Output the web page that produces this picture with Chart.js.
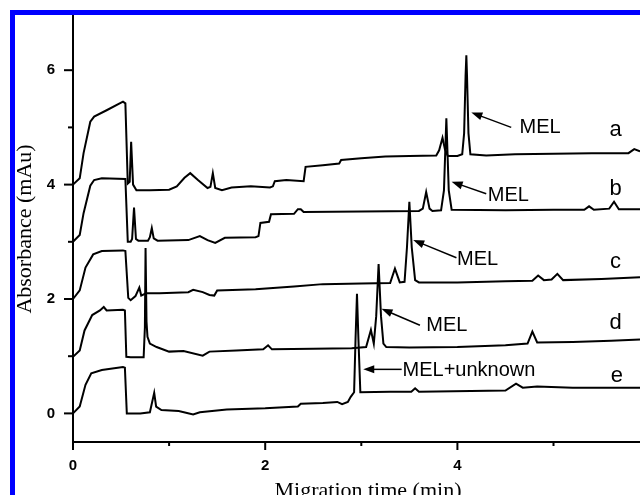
<!DOCTYPE html>
<html>
<head>
<meta charset="utf-8">
<script src="https://cdn.jsdelivr.net/npm/chart.js@4.4.1/dist/chart.umd.min.js"></script>
<style>
  html, body { margin: 0; padding: 0; background: #fff; }
  #wrap { position: relative; width: 640px; height: 495px; }
</style>
</head>
<body>
<div id="wrap"><canvas id="chart"></canvas></div>
<script>
// electropherograms a-e: migration time (min) vs absorbance (mAu)
const timeA = [0, 0.07, 0.11, 0.18, 0.22, 0.35, 0.52, 0.545, 0.57, 0.59, 0.605, 0.625, 0.66, 0.8, 1.0, 1.08, 1.16, 1.22, 1.30, 1.40, 1.43, 1.455, 1.48, 1.55, 1.65, 1.85, 2.05, 2.08, 2.10, 2.22, 2.40, 2.42, 2.60, 2.77, 2.79, 3.0, 3.25, 3.5, 3.78, 3.81, 3.845, 3.87, 3.90, 4.00, 4.05, 4.07, 4.085, 4.093, 4.10, 4.115, 4.135, 4.3, 4.6, 5.0, 5.4, 5.78, 5.84, 5.9];
const absA  = [4.0, 4.11, 4.55, 5.10, 5.19, 5.30, 5.45, 5.42, 4.02, 4.05, 4.75, 4.0, 3.90, 3.90, 3.91, 3.97, 4.12, 4.20, 4.08, 3.94, 3.96, 4.20, 3.94, 3.90, 3.95, 3.97, 3.95, 3.97, 4.06, 4.08, 4.06, 4.31, 4.34, 4.37, 4.43, 4.46, 4.49, 4.50, 4.51, 4.60, 4.82, 4.62, 4.50, 4.50, 4.53, 4.9, 5.9, 6.26, 5.9, 4.9, 4.53, 4.51, 4.53, 4.54, 4.55, 4.55, 4.62, 4.58];

const timeB = [0, 0.07, 0.11, 0.18, 0.22, 0.30, 0.545, 0.57, 0.60, 0.615, 0.635, 0.655, 0.68, 0.78, 0.80, 0.82, 0.84, 0.88, 1.20, 1.32, 1.40, 1.48, 1.58, 1.90, 1.93, 1.95, 2.04, 2.06, 2.30, 2.34, 2.37, 2.40, 3.00, 3.60, 3.64, 3.675, 3.71, 3.74, 3.83, 3.86, 3.885, 3.91, 3.94, 4.5, 5.0, 5.32, 5.37, 5.42, 5.58, 5.63, 5.68, 5.9];
const absB  = [3.0, 3.12, 3.5, 3.98, 4.08, 4.11, 4.10, 3.0, 3.0, 3.05, 3.60, 3.05, 3.02, 3.02, 3.08, 3.24, 3.06, 3.02, 3.03, 3.10, 3.03, 2.98, 3.07, 3.08, 3.10, 3.33, 3.35, 3.48, 3.49, 3.57, 3.57, 3.52, 3.53, 3.54, 3.58, 3.87, 3.58, 3.54, 3.55, 3.9, 5.16, 3.9, 3.56, 3.55, 3.56, 3.56, 3.62, 3.56, 3.58, 3.70, 3.57, 3.57];

const timeC = [0, 0.07, 0.13, 0.21, 0.30, 0.52, 0.545, 0.575, 0.60, 0.65, 0.69, 0.71, 0.76, 0.90, 1.20, 1.25, 1.35, 1.42, 1.47, 1.50, 1.90, 2.30, 2.60, 3.00, 3.30, 3.35, 3.40, 3.45, 3.475, 3.50, 3.525, 3.56, 3.60, 4.00, 4.50, 4.78, 4.84, 4.90, 4.98, 5.04, 5.10, 5.50, 5.90];
const absC  = [2.0, 2.15, 2.55, 2.78, 2.84, 2.85, 2.84, 2.02, 1.98, 2.05, 2.20, 2.06, 2.10, 2.10, 2.12, 2.16, 2.12, 2.07, 2.06, 2.15, 2.17, 2.22, 2.26, 2.27, 2.28, 2.53, 2.29, 2.30, 2.9, 3.70, 2.9, 2.33, 2.29, 2.29, 2.31, 2.32, 2.41, 2.33, 2.34, 2.44, 2.33, 2.35, 2.38];

const timeD = [0, 0.07, 0.12, 0.20, 0.28, 0.32, 0.35, 0.52, 0.54, 0.555, 0.60, 0.735, 0.748, 0.755, 0.765, 0.775, 0.80, 0.87, 1.00, 1.15, 1.35, 1.42, 1.70, 1.98, 2.03, 2.07, 2.50, 2.90, 3.05, 3.10, 3.13, 3.155, 3.18, 3.205, 3.23, 3.26, 3.50, 4.00, 4.50, 4.73, 4.78, 4.83, 5.20, 5.60, 5.90];
const absD  = [0.99, 1.10, 1.45, 1.72, 1.80, 1.86, 1.80, 1.81, 1.80, 0.99, 0.98, 0.98, 1.5, 2.89, 1.6, 1.34, 1.22, 1.16, 1.08, 1.09, 1.01, 1.08, 1.10, 1.12, 1.19, 1.12, 1.13, 1.14, 1.16, 1.46, 1.22, 1.7, 2.61, 1.7, 1.22, 1.16, 1.15, 1.16, 1.19, 1.22, 1.43, 1.24, 1.25, 1.27, 1.29];

const timeE = [0, 0.07, 0.13, 0.19, 0.30, 0.52, 0.54, 0.56, 0.70, 0.80, 0.845, 0.865, 0.92, 1.10, 1.25, 1.32, 1.60, 2.00, 2.34, 2.37, 2.60, 2.75, 2.80, 2.86, 2.89, 2.925, 2.94, 2.955, 2.97, 2.99, 3.30, 3.52, 3.56, 3.60, 4.50, 4.61, 4.68, 4.83, 5.20, 5.90];
const absE  = [0.0, 0.12, 0.5, 0.70, 0.76, 0.81, 0.80, 0.0, 0.0, 0.02, 0.36, 0.12, 0.06, 0.04, -0.02, 0.02, 0.07, 0.09, 0.12, 0.17, 0.18, 0.20, 0.16, 0.20, 0.29, 0.37, 1.3, 2.09, 1.3, 0.37, 0.38, 0.38, 0.44, 0.38, 0.40, 0.52, 0.45, 0.47, 0.45, 0.45];

const X_TICKS = [0, 1, 2, 3, 4, 5];
const Y_TICKS = [0, 1, 2, 3, 4, 5, 6];

// labels and arrows, in data units
const TRACE_LABELS = [
  { text: 'a', x: 5.645, y: 4.95 },
  { text: 'b', x: 5.645, y: 3.92 },
  { text: 'c', x: 5.645, y: 2.64 },
  { text: 'd', x: 5.645, y: 1.58 },
  { text: 'e', x: 5.66,  y: 0.65 }
];
const PEAK_LABELS = [
  { text: 'MEL',         x: 4.86, y: 4.99, from: [4.56, 5.00], to: [4.145, 5.26] },
  { text: 'MEL',         x: 4.53, y: 3.81, from: [4.30, 3.84], to: [3.94, 4.05] },
  { text: 'MEL',         x: 4.21, y: 2.69, from: [3.99, 2.72], to: [3.54, 3.03] },
  { text: 'MEL',         x: 3.89, y: 1.54, from: [3.61, 1.54], to: [3.21, 1.83] },
  { text: 'MEL+unknown', x: 4.12, y: 0.75, from: [3.42, 0.77], to: [3.02, 0.77] }
];

const SANS  = '"Liberation Sans", Arial, sans-serif';
const SERIF = '"Liberation Serif", "Times New Roman", serif';

function toPoints(xs, ys) {
  return xs.map((t, i) => ({ x: t, y: ys[i] }));
}

function trace(xs, ys) {
  return {
    data: toPoints(xs, ys),
    borderColor: '#000',
    borderWidth: 2,
    pointRadius: 0,
    tension: 0,
    fill: false
  };
}

function arrow(ctx, x1, y1, x2, y2) {
  const ang = Math.atan2(y2 - y1, x2 - x1);
  const len = 11, hw = 4;
  ctx.beginPath();
  ctx.moveTo(x1, y1);
  ctx.lineTo(x2 - Math.cos(ang) * len * 0.8, y2 - Math.sin(ang) * len * 0.8);
  ctx.lineWidth = 1.5;
  ctx.stroke();
  ctx.beginPath();
  ctx.moveTo(x2, y2);
  ctx.lineTo(x2 - Math.cos(ang) * len + Math.sin(ang) * hw, y2 - Math.sin(ang) * len - Math.cos(ang) * hw);
  ctx.lineTo(x2 - Math.cos(ang) * len - Math.sin(ang) * hw, y2 - Math.sin(ang) * len + Math.cos(ang) * hw);
  ctx.closePath();
  ctx.fill();
}

const overlay = {
  id: 'overlay',
  afterDraw(chart) {
    const { ctx, scales: { x, y } } = chart;
    ctx.save();
    ctx.strokeStyle = '#000';
    ctx.fillStyle = '#000';

    // tick marks (major even, minor odd)
    ctx.lineWidth = 2;
    X_TICKS.forEach((v) => {
      const px = x.getPixelForValue(v);
      const len = v % 2 === 0 ? 8 : 4;
      ctx.beginPath();
      ctx.moveTo(px, y.bottom);
      ctx.lineTo(px, y.bottom + len);
      ctx.stroke();
    });
    Y_TICKS.forEach((v) => {
      const py = y.getPixelForValue(v);
      const len = v % 2 === 0 ? 9 : 5;
      ctx.beginPath();
      ctx.moveTo(x.left, py);
      ctx.lineTo(x.left - len, py);
      ctx.stroke();
    });

    // peak labels with arrows
    ctx.font = '20px ' + SANS;
    ctx.textAlign = 'center';
    ctx.textBaseline = 'middle';
    PEAK_LABELS.forEach((l) => {
      ctx.fillText(l.text, x.getPixelForValue(l.x), y.getPixelForValue(l.y));
      arrow(ctx,
        x.getPixelForValue(l.from[0]), y.getPixelForValue(l.from[1]),
        x.getPixelForValue(l.to[0]), y.getPixelForValue(l.to[1]));
    });

    ctx.font = '22px ' + SANS;
    TRACE_LABELS.forEach((l) => {
      ctx.fillText(l.text, x.getPixelForValue(l.x), y.getPixelForValue(l.y));
    });

    // axis titles
    ctx.font = '22px ' + SERIF;
    ctx.textBaseline = 'alphabetic';
    ctx.fillText('Migration time (min)', 368, 497);
    ctx.save();
    ctx.translate(31, 229);
    ctx.rotate(-Math.PI / 2);
    ctx.fillText('Absorbance (mAu)', 0, 0);
    ctx.restore();

    // blue frame
    ctx.fillStyle = '#0000ff';
    ctx.fillRect(10, 10, 630, 5);
    ctx.fillRect(10, 10, 5, 485);
    ctx.restore();
  }
};

new Chart(document.getElementById('chart'), {
  type: 'line',
  data: {
    datasets: [
      trace(timeA, absA),
      trace(timeB, absB),
      trace(timeC, absC),
      trace(timeD, absD),
      trace(timeE, absE)
    ]
  },
  options: {
    responsive: true,
    maintainAspectRatio: false,
    animation: false,
    layout: { padding: { top: 13, left: 0, right: 0, bottom: 0 } },
    plugins: {
      legend: { display: false },
      tooltip: { enabled: false }
    },
    scales: {
      x: {
        type: 'linear',
        min: 0,
        max: 5.9,
        afterBuildTicks: (s) => { s.ticks = X_TICKS.map((v) => ({ value: v })); },
        afterFit: (s) => { s.height = 53; s.paddingLeft = 0; s.paddingRight = 0; },
        grid: { display: false, drawTicks: false },
        border: { display: true, color: '#000', width: 2 },
        ticks: {
          padding: 15,
          color: '#000',
          font: { family: SANS, size: 15, weight: 'bold' },
          callback: (v) => (v % 2 === 0 ? String(v) : '')
        }
      },
      y: {
        type: 'linear',
        min: -0.5,
        max: 7,
        afterBuildTicks: (s) => { s.ticks = Y_TICKS.map((v) => ({ value: v })); },
        afterFit: (s) => { s.width = 73; s.paddingTop = 0; s.paddingBottom = 0; },
        grid: { display: false, drawTicks: false },
        border: { display: true, color: '#000', width: 2 },
        ticks: {
          padding: 18,
          color: '#000',
          font: { family: SANS, size: 15, weight: 'bold' },
          callback: (v) => (v % 2 === 0 ? String(v) : '')
        }
      }
    }
  },
  plugins: [overlay]
});
</script>
</body>
</html>
